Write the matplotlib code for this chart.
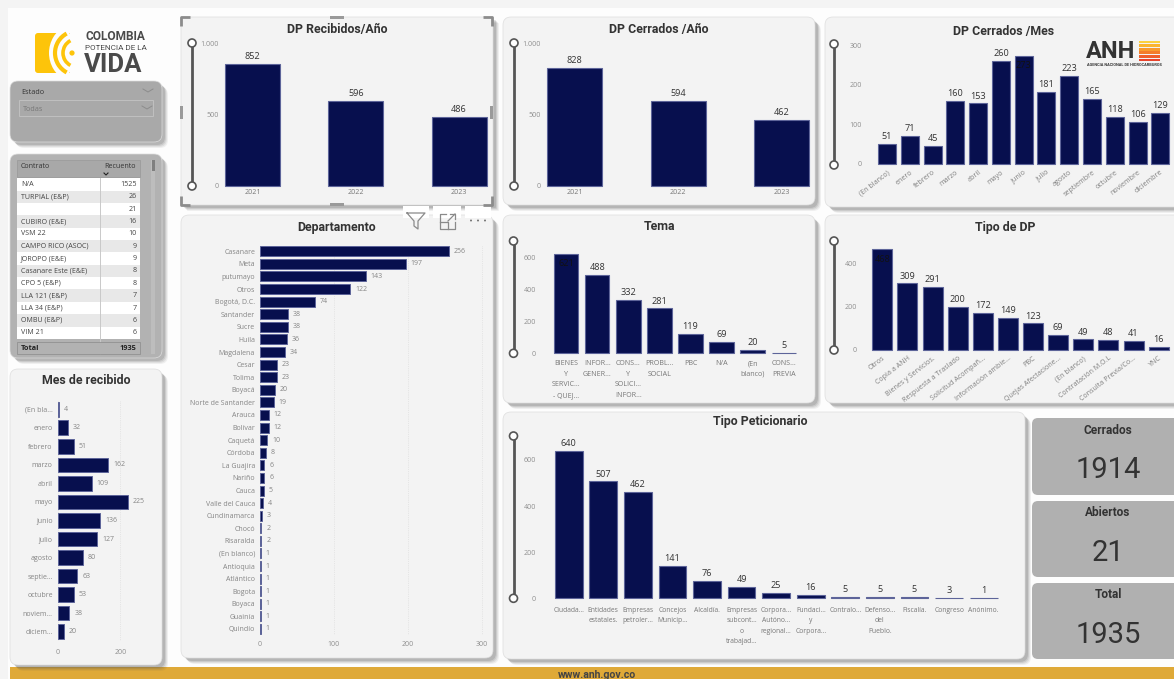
import matplotlib
matplotlib.use("Agg")
import matplotlib.pyplot as plt
from matplotlib.patches import FancyBboxPatch, Rectangle, Wedge, Arc, Circle
import logging
logging.getLogger('matplotlib.font_manager').setLevel(logging.ERROR)

# ---------- data ----------
anios = ['2021', '2022', '2023']
recibidos_anio = [852, 596, 486]
cerrados_anio = [828, 594, 462]

meses_cerrados = ['(En blanco)', 'enero', 'febrero', 'marzo', 'abril', 'mayo', 'junio', 'julio',
                  'agosto', 'septiembre', 'octubre', 'noviembre', 'diciembre']
cerrados_mes = [51, 71, 45, 160, 153, 260, 273, 181, 223, 165, 118, 106, 129]

departamentos = ['Casanare', 'Meta', 'putumayo', 'Otros', 'Bogotá, D.C.', 'Santander', 'Sucre', 'Huila',
                 'Magdalena', 'Cesar', 'Tolima', 'Boyacá', 'Norte de Santander', 'Arauca', 'Bolívar',
                 'Caquetá', 'Córdoba', 'La Guajira', 'Nariño', 'Cauca', 'Valle del Cauca', 'Cundinamarca',
                 'Chocó', 'Risaralda', '(En blanco)', 'Antioquia', 'Atlántico', 'Bogota', 'Boyaca',
                 'Guainía', 'Quindío']
depto_valores = [256, 197, 143, 122, 74, 38, 38, 36, 34, 23, 23, 20, 19, 12, 12, 10, 8, 6, 6, 5, 4, 3,
                 2, 2, 1, 1, 1, 1, 1, 1, 1]

temas = ['BIENES\nY\nSERVIC...\n- QUEJ...', 'INFOR...\nGENER...', 'CONS...\nY\nSOLICI...\nINFOR...',
         'PROBL...\nSOCIAL', 'PBC', 'N/A', '(En\nblanco)', 'CONS...\nPREVIA']
tema_valores = [621, 488, 332, 281, 119, 69, 20, 5]

tipos_dp = ['Otros', 'Copia a ANH', 'Bienes y Servicios.', 'Respuesta a Traslado', 'Solicitud Acompañ...',
            'Información ambie...', 'PBC', 'Quejas Afectacione...', '(En blanco)', 'Contratación M.O.L',
            'Consulta Previa/Co...', 'YNC']
tipo_dp_valores = [468, 309, 291, 200, 172, 149, 123, 69, 49, 48, 41, 16]

peticionarios = ['Ciudada...', 'Entidades\nestatales.', 'Empresas\npetroler...', 'Concejos\nMunicip...',
                 'Alcaldía.', 'Empresas\nsubcont...\no\ntrabajad...', 'Corpora...\nAutóno...\nregional...',
                 'Fundaci...\ny\nCorpora...', 'Contralo...', 'Defenso...\ndel\nPueblo.', 'Fiscalía.',
                 'Congreso', 'Anónimo.']
peticionario_valores = [640, 507, 462, 141, 76, 49, 25, 16, 5, 5, 5, 3, 1]

meses_recibido = ['(En bla...', 'enero', 'febrero', 'marzo', 'abril', 'mayo', 'junio', 'julio', 'agosto',
                  'septie...', 'octubre', 'noviem...', 'diciem...']
recibido_mes = [4, 32, 51, 162, 109, 225, 136, 127, 80, 63, 53, 38, 20]

contratos = ['N/A', 'TURPIAL (E&P)', '', 'CUBIRO (E&E)', 'VSM 22', 'CAMPO RICO (ASOC)', 'JOROPO (E&E)',
             'Casanare Este (E&E)', 'CPO 5 (E&P)', 'LLA 121 (E&P)', 'LLA 34 (E&P)', 'OMBU (E&P)', 'VIM 21']
contrato_recuento = [1525, 26, 21, 16, 10, 9, 9, 8, 8, 7, 7, 6, 6]
total_recuento = 1935

kpi_nombres = ['Cerrados', 'Abiertos', 'Total']
kpi_valores = ['1914', '21', '1935']

# ---------- style ----------
W, H = 1174, 679
BAR = '#070f4e'
EDGE = '#5d6499'
PANEL = '#f3f3f3'
TICK = '#8f8f8f'
DARK = '#333333'
SANS = ['Open Sans', 'DejaVu Sans']
HEAD = ['Roboto', 'DejaVu Sans']
plt.rcParams['font.family'] = SANS

fig = plt.figure(figsize=(W / 100, H / 100), dpi=100, facecolor='#fdfdfd')
bg = fig.add_axes([0, 0, 1, 1], zorder=0)
bg.set_xlim(0, W)
bg.set_ylim(H, 0)
bg.axis('off')


def panel(x0, y0, x1, y1, color=PANEL, radius=8):
    for k, a in ((6, .08), (5, .10), (4, .14), (3, .18)):
        bg.add_patch(FancyBboxPatch((x0 + k, y0 + k), x1 - x0, y1 - y0, boxstyle=f'round,pad=0,rounding_size={radius}',
                                    fc='#555555', ec='none', alpha=a, zorder=1))
    bg.add_patch(FancyBboxPatch((x0, y0), x1 - x0, y1 - y0, boxstyle=f'round,pad=0,rounding_size={radius}',
                                fc=color, ec='#dddddd', lw=.5, zorder=2))


def title(x, y, s):
    bg.text(x, y + 1, s, ha='center', va='center', fontsize=8.9, fontweight='bold', family=HEAD, color=DARK, zorder=5)


def slider(x, y0, y1):
    bg.plot([x, x], [y0, y1], color='#555555', lw=2, zorder=5, solid_capstyle='butt')
    for y in (y0, y1):
        bg.add_patch(Circle((x, y), 4, fc='white', ec='#555555', lw=1.2, zorder=6))


def vchart(labels, values, c0, step, width, y0, ref, ref_px, top_px, left, right, yticks, ytick_labels=None,
           inside=(), label_fs=6.6, rot=0, pad=3.5, tick_fs=5.1, linespacing=1.7):
    n = len(values)
    ax = fig.add_axes([left / W, 1 - y0 / H, (right - left) / W, (y0 - top_px) / H], zorder=3)
    ax.patch.set_alpha(0)
    ppu = (y0 - ref_px) / ref
    ax.set_ylim(0, (y0 - top_px) / ppu)
    ax.set_xlim(-(c0 - left) / step, (n - 1) + (right - (c0 + step * (n - 1))) / step)
    ax.bar(range(n), values, width=width / step, color=BAR, edgecolor=EDGE, linewidth=.8, clip_on=False)
    for s in ax.spines.values():
        s.set_visible(False)
    ax.set_yticks(yticks)
    ax.set_yticklabels(ytick_labels or [str(t) for t in yticks], fontsize=5.1, color=TICK)
    ax.tick_params(axis='y', length=0, pad=1.5)
    ax.set_xticks(range(n))
    if rot:
        ax.set_xticklabels(labels, rotation=rot, ha='right', rotation_mode='anchor', fontsize=tick_fs, color='#808080')
    else:
        ax.set_xticklabels(labels, fontsize=tick_fs, color='#777777', linespacing=linespacing)
    ax.tick_params(axis='x', length=0, pad=pad)
    for i, v in enumerate(values):
        if i in inside:
            ax.annotate(str(v), (i, v), xytext=(0, -4), textcoords='offset points', ha='center', va='top',
                        fontsize=label_fs, color='#111111', annotation_clip=False)
        else:
            ax.annotate(str(v), (i, v), xytext=(0, 2), textcoords='offset points', ha='center', va='bottom',
                        fontsize=label_fs, color=DARK, annotation_clip=False)
    return ax


def hchart(labels, values, x0, ref, ref_px, xmax_px, c0, step, height, xticks, tick_y_pad):
    n = len(values)
    top = c0 - step / 2
    bottom = c0 + step * (n - .5)
    ax = fig.add_axes([x0 / W, 1 - bottom / H, (xmax_px - x0) / W, (bottom - top) / H], zorder=3)
    ax.patch.set_alpha(0)
    ppu = (ref_px - x0) / ref
    ax.set_xlim(0, (xmax_px - x0) / ppu)
    ax.set_ylim(n - .5, -.5)
    ax.barh(range(n), values, height=height / step, color=BAR, edgecolor=EDGE, linewidth=.7)
    for s in ax.spines.values():
        s.set_visible(False)
    ax.set_yticks(range(n))
    ax.set_yticklabels(labels, fontsize=5.0, color='#858585')
    ax.tick_params(axis='y', length=0, pad=3.5)
    ax.set_xticks(xticks)
    ax.set_xticklabels([str(t) for t in xticks], fontsize=5.0, color=TICK)
    ax.tick_params(axis='x', length=0, pad=tick_y_pad)
    ax.grid(axis='x', ls=':', lw=.5, color='#d8d8d8')
    ax.set_axisbelow(True)
    for i, v in enumerate(values):
        ax.annotate(str(v), (v, i), xytext=(3.5, 0), textcoords='offset points', ha='left', va='center',
                    fontsize=5.0, color='#858585', annotation_clip=False)
    return ax


# ---------- page ----------
bg.add_patch(Rectangle((0, 0), 8, H, fc='#f4f4f4', ec='none', zorder=0.5))
bg.add_patch(Rectangle((0, 0), W, 8, fc='#f4f4f4', ec='none', zorder=0.5))
bg.add_patch(Rectangle((10, 667), W - 10, 12, fc='#dfa938', ec='none', zorder=1))
bg.text(597, 675, 'www.anh.gov.co', ha='center', va='center', fontsize=7.6, fontweight='bold', family=HEAD,
        color='#444444', zorder=5)

# ---------- Colombia logo ----------
bg.add_patch(FancyBboxPatch((35, 33), 40, 40, boxstyle='round,pad=0,rounding_size=3', fc='#fdc40a', ec='none', zorder=2))
bg.add_patch(Wedge((80, 53), 31, 118, 242, fc='#fdfdfd', ec='none', zorder=3))
bg.add_patch(Rectangle((70, 32), 8, 42, fc='#fdfdfd', ec='none', zorder=3))
for r, lw in ((22, 3.0), (14, 2.6)):
    bg.add_patch(Arc((77, 53), 2 * r, 2 * r, theta1=118, theta2=242, color='#fdc40a', lw=lw, zorder=4))
bg.add_patch(Circle((72, 53), 2.6, fc='#fdc40a', ec='none', zorder=4))
bg.text(85, 37, 'COLOMBIA', ha='left', va='center', fontsize=8.6, fontweight='bold', family=HEAD, color='#4a4a4a', zorder=5)
bg.text(85, 47.5, 'POTENCIA DE LA', ha='left', va='center', fontsize=5.9, family=HEAD, color='#4a4a4a', zorder=5)
bg.text(84, 65, 'VIDA', ha='left', va='center', fontsize=18.5, fontweight='bold', family=HEAD, color='#4a4a4a', zorder=5)

# ---------- Estado slicer ----------
panel(10, 81, 162, 142, color='#a9a9a9')
bg.text(21, 92, 'Estado', ha='left', va='center', fontsize=5.2, color='#333333', zorder=5)
bg.add_patch(Rectangle((19, 100), 134, 16, fc='#a9a9a9', ec='#c0c0c0', lw=.7, zorder=4))
bg.text(23, 109.5, 'Todas', ha='left', va='center', fontsize=5.2, color='#777777', zorder=5)
for yy in (91, 108):
    bg.plot([143, 148, 153] if yy == 91 else [142, 147, 152], [yy - 2, yy + 1, yy - 2], color='#8c8c8c', lw=.7, zorder=5)

# ---------- contract table ----------
panel(10, 154, 162, 358, color='#b2b2b2')
bg.add_patch(Rectangle((17, 160), 123, 17, fc='#a8a8a8', ec='#999999', lw=.5, zorder=4))
bg.text(21, 167, 'Contrato', ha='left', va='center', fontsize=5.1, color='#333333', zorder=5)
bg.text(136, 167, 'Recuento', ha='right', va='center', fontsize=5.1, color='#333333', zorder=5)
bg.plot([104, 106, 108], [173, 175, 173], color='#222222', lw=.8, zorder=5)
bg.add_patch(Rectangle((151, 160), 4, 194, fc='#bdbdbd', ec='none', zorder=4))
bg.add_patch(Rectangle((151.5, 160), 3, 11, fc='#7f7f7f', ec='none', zorder=5))
for i, (c, r) in enumerate(zip(contratos, contrato_recuento)):
    yc = 184.5 + i * 12.35
    bg.add_patch(Rectangle((17, yc - 6.2), 123, 12.4, fc='white' if i % 2 == 0 else '#e8e8e8', ec='none', zorder=4))
    bg.text(21, yc, c, ha='left', va='center', fontsize=5.1, color='#444444', zorder=5)
    bg.text(136.5, yc, f'{r}', ha='right', va='center', fontsize=5.1, color='#444444', zorder=5)
bg.plot([100, 100], [178, 354], color='#c9c9c9', lw=.7, zorder=5)
bg.add_patch(Rectangle((17, 342), 123, 12, fc='#b2b2b2', ec='#8a8a8a', lw=.5, zorder=5))
bg.text(21, 348, 'Total', ha='left', va='center', fontsize=5.3, fontweight='bold', color='#222222', zorder=6)
bg.text(136.5, 348, f'{total_recuento}', ha='right', va='center', fontsize=5.3, fontweight='bold', color='#222222', zorder=6)

# ---------- DP Recibidos/Año ----------
panel(181, 17, 493, 205, radius=1)
title(337, 28, 'DP Recibidos/Año')
slider(192, 43, 186)
vchart(anios, recibidos_anio, 252.5, 103.3, 55, 186, 1000, 43, 40, 221, 491, [0, 500, 1000], ['0', '500', '1.000'], pad=2.5)
for (x, y, dx, dy) in ((181, 17, 1, 1), (492, 17, -1, 1), (181, 205, 1, -1), (492, 205, -1, -1)):
    bg.plot([x + dx * 9, x, x], [y, y, y + dy * 9], color='#8c8c8c', lw=2, zorder=7, solid_capstyle='butt')
for (x, y, ww, hh) in ((330, 16, 14, 3), (330, 203, 14, 3), (180, 106, 3, 13), (490, 106, 3, 13)):
    bg.add_patch(Rectangle((x, y), ww, hh, fc='#9a9a9a', ec='none', zorder=7))

# ---------- DP Cerrados /Año ----------
panel(503, 17, 815, 205)
title(659, 28, "DP Cerrados /Año")
slider(514, 43, 186)
vchart(anios, cerrados_anio, 574.5, 103.5, 55, 186, 1000, 43, 40, 543, 813, [0, 500, 1000], ['0', '500', '1.000'], pad=2.5)

# ---------- DP Cerrados /Mes ----------
panel(825, 17, 1190, 207)
title(1004, 30, 'DP Cerrados /Mes')
slider(834, 44, 165)
vchart(meses_cerrados, cerrados_mes, 887, 22.78, 18, 164, 300, 45, 42, 864, 1174, [0, 100, 200, 300], inside=(6,), rot=38, pad=3.5)
bg.text(1086, 51, 'ANH', ha='left', va='center', fontsize=17, fontweight='bold', family=HEAD, color='#333333', zorder=6)
bg.text(1087, 64.5, 'AGENCIA NACIONAL DE HIDROCARBUROS', ha='left', va='center', fontsize=2.8, fontweight='bold',
        family=HEAD, color='#333333', zorder=6)
for k, col in enumerate(['#fbd13e', '#fab52f', '#f89b2c', '#f47d2a', '#ef5f2b', '#e8442c']):
    bg.add_patch(Rectangle((1138.5, 40.5 + k * 3.6), 21.5, 2.9, fc=col, ec='none', zorder=6))

# ---------- Departamento ----------
panel(181, 215, 493, 658)
title(337, 227, 'Departamento')
hchart(departamentos, depto_valores, 260, 300, 481.7, 484, 251.3, 12.59, 10, [0, 100, 200, 300], 4)
# visual header icons
for (x0, x1) in ((403, 429), (433, 461), (465, 491)):
    bg.add_patch(Rectangle((x0, 206), x1 - x0, 12, fc='white', ec='none', zorder=6))
bg.plot([407, 425, 418, 418, 414, 414, 407], [213, 213, 221, 229, 226, 221, 213], color='#8a8a8a', lw=.9, zorder=7)
bg.plot([446, 440, 440, 455, 455], [214, 214, 229, 229, 222], color='#8a8a8a', lw=.9, zorder=7)
bg.plot([440, 448, 448], [222, 222, 229], color='#8a8a8a', lw=.9, zorder=7)
bg.plot([448, 455], [221, 214], color='#8a8a8a', lw=.9, zorder=7)
bg.plot([450, 455, 455], [214, 214, 219], color='#8a8a8a', lw=.9, zorder=7)
for x in (471, 478, 485):
    bg.add_patch(Circle((x, 220.5), 1, fc='#777777', ec='none', zorder=7))

# ---------- Mes de recibido ----------
panel(10, 369, 162, 665)
title(86, 380, 'Mes de recibido')
hchart(meses_recibido, recibido_mes, 57.5, 200, 120.3, 132, 409.3, 18.53, 14.7, [0, 200], 6)

# ---------- Tema ----------
panel(503, 215, 815, 403)
title(659, 226, 'Tema')
slider(513.5, 241, 353.3)
vchart(temas, tema_valores, 566.3, 31.05, 24.3, 353.3, 600, 257.3, 240, 538, 813, [0, 200, 400, 600], inside=(0,), pad=5)

# ---------- Tipo de DP ----------
panel(825, 215, 1190, 403)
title(1005, 226, 'Tipo de DP')
slider(834, 241, 350)
vchart(tipos_dp, tipo_dp_valores, 882.3, 25.12, 20, 350, 400, 263.7, 240, 859, 1174, [0, 200, 400], inside=(0,), rot=38, pad=3.5)

# ---------- Tipo Peticionario ----------
panel(503, 412, 1025, 659)
title(760, 421, 'Tipo Peticionario')
slider(513.5, 436, 598.3)
vchart(peticionarios, peticionario_valores, 568.7, 34.58, 27.7, 598.3, 600, 460, 445, 538, 1020, [0, 200, 400, 600], pad=6, tick_fs=4.9)

# ---------- KPI cards ----------
for (y0, y1), name, val in zip(((418, 495), (501, 577), (583, 659)), kpi_nombres, kpi_valores):
    bg.add_patch(FancyBboxPatch((1032, y0), 160, y1 - y0, boxstyle='round,pad=0,rounding_size=6',
                                fc='#b0b0b0', ec='none', zorder=2))
    bg.text(1108, y0 + 12, name, ha='center', va='center', fontsize=8.6, fontweight='bold', family=HEAD,
            color=DARK, zorder=5)
    bg.text(1108, y0 + 52, val, ha='center', va='center', fontsize=21, family=HEAD, color=DARK, zorder=5)

fig.savefig('out.png', dpi=100, facecolor=fig.get_facecolor())
